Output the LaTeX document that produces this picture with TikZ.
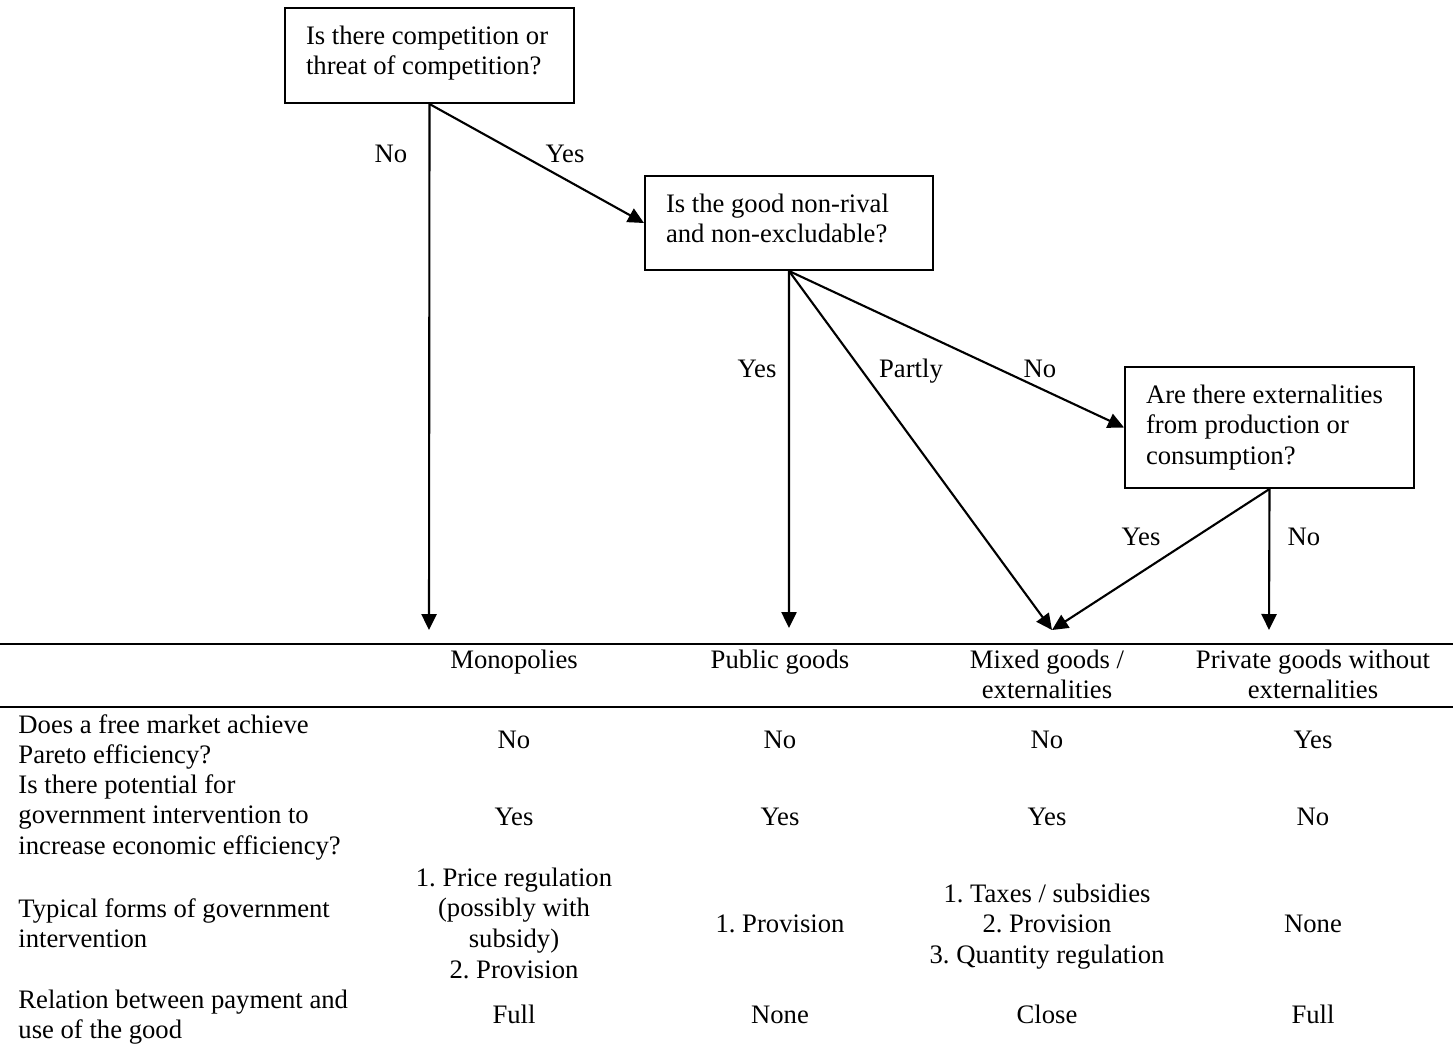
\documentclass[tikz,border=0pt]{standalone}
\usepackage{fontspec}
\setmainfont{Liberation Serif}
\usetikzlibrary{arrows.meta,calc}
\frenchspacing
\newcommand\ccell[1]{\begin{tabular}[t]{@{}c@{}}#1\end{tabular}}
\newcommand\lcell[1]{\begin{tabular}[t]{@{}l@{}}#1\end{tabular}}
% question box text: #1 height, #2 width, #3 text
\newcommand\qtext[3]{\parbox[c][#1][t]{#2}{\leftskip=9.45pt\rule{0pt}{16.2pt}#3}}
\begin{document}
\begin{tikzpicture}[x=0.45pt,y=-0.45pt,
  every node/.style={font=\fontsize{12}{13.8}\selectfont, inner sep=0pt},
  qbox/.style={draw, line width=0.9pt, anchor=north west, inner sep=0pt},
  flow/.style={line width=0.95pt, -{Triangle[length=7.2pt,width=6.8pt]}},
  lab/.style={anchor=base},
  rowlab/.style={anchor=base west},
  rule/.style={line width=1.3pt}]
\useasboundingbox (0,0) rectangle (1453,1046);

% question boxes
\node[qbox] (q1) at (284,7)
  {\qtext{42.75pt}{130.05pt}{Is there competition or\\threat of competition?}};
\node[qbox] (q2) at (644,175)
  {\qtext{42.3pt}{129.6pt}{Is the good non-rival\\and non-excludable?}};
\node[qbox] (q3) at (1124,366)
  {\qtext{54.45pt}{130.05pt}{Are there externalities\\from production or\\consumption?}};

% arrow end points
\coordinate (e1) at (429,630);
\coordinate (e2) at (789,628);
\coordinate (e3) at (1052,630);
\coordinate (e4) at (1269,630);

\draw[flow] (q1.south) -- (e1);
\draw[flow] (q1.south) -- (q2.west);
\draw[flow] (q2.south) -- (e2);
\draw[flow] (q2.south) -- (e3);
\draw[flow] (q2.south) -- (q3.west);
\draw[flow] (q3.south) -- (e3);
\draw[flow] (q3.south) -- (e4);

% flow labels
\node[lab] (lno1) at (391,162) {No};
\node[lab] (lyes1) at (565,162) {Yes};
\node[lab] (lyes2) at (757,377) {Yes};
\node[lab] (lpartly) at (911,377) {Partly};
\node[lab] (lno2) at (1040,377) {No};
\node[lab] (lyes3) at (1141,545) {Yes};
\node[lab] (lno3) at (1304,545) {No};

% table rules
\draw[rule] (0,644) -- (1453,644);
\draw[rule] (0,707) -- (1453,707);

% header
\node[lab] (h1) at (514,668) {\ccell{Monopolies}};
\node[lab] (h2) at (780,668) {\ccell{Public goods}};
\node[lab] (h3) at (1047,668) {\ccell{Mixed goods /\\externalities}};
\node[lab] (h4) at (1313,668) {\ccell{Private goods without\\externalities}};

% row 1
\node[rowlab] (r1) at (18,733) {\lcell{Does a free market achieve\\Pareto efficiency?}};
\node[lab] (v11) at (514,748) {No};
\node[lab] (v12) at (780,748) {No};
\node[lab] (v13) at (1047,748) {No};
\node[lab] (v14) at (1313,748) {Yes};

% row 2
\node[rowlab] (r2) at (18,793) {\lcell{Is there potential for\\government intervention to\\increase economic efficiency?}};
\node[lab] (v21) at (514,825) {Yes};
\node[lab] (v22) at (780,825) {Yes};
\node[lab] (v23) at (1047,825) {Yes};
\node[lab] (v24) at (1313,825) {No};

% row 3
\node[rowlab] (r3) at (18,917) {\lcell{Typical forms of government\\intervention}};
\node[lab] (v31) at (514,886) {\ccell{1. Price regulation\\(possibly with\\subsidy)\\2. Provision}};
\node[lab] (v32) at (780,932) {1. Provision};
\node[lab] (v33) at (1047,902) {\ccell{1. Taxes / subsidies\\2. Provision\\3. Quantity regulation}};
\node[lab] (v34) at (1313,932) {None};

% row 4
\node[rowlab] (r4) at (18,1008) {\lcell{Relation between payment and\\use of the good}};
\node[lab] (v41) at (514,1023) {Full};
\node[lab] (v42) at (780,1023) {None};
\node[lab] (v43) at (1047,1023) {Close};
\node[lab] (v44) at (1313,1023) {Full};
\end{tikzpicture}
\end{document}
